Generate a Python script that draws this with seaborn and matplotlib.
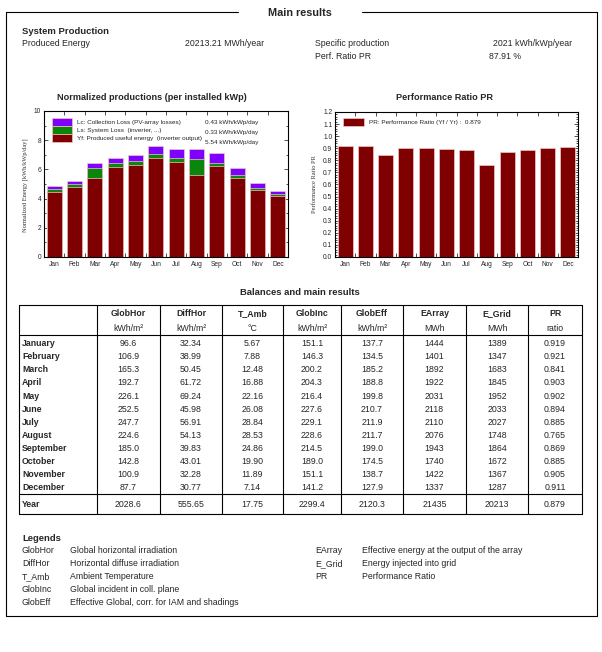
import matplotlib
matplotlib.use('Agg')
import matplotlib.pyplot as plt
import matplotlib.patches as mpatches
import seaborn as sns
import pandas as pd

# monthly normalized productions [kWh/kWp/day]
months = ['Jan', 'Feb', 'Mar', 'Apr', 'May', 'Jun', 'Jul', 'Aug', 'Sep', 'Oct', 'Nov', 'Dec']
yf = [4.48, 4.81, 5.43, 6.15, 6.30, 6.78, 6.54, 5.64, 6.21, 5.39, 4.56, 4.15]
ls = [0.18, 0.19, 0.67, 0.26, 0.26, 0.28, 0.27, 1.06, 0.26, 0.22, 0.18, 0.16]
lc = [0.22, 0.22, 0.36, 0.40, 0.43, 0.53, 0.58, 0.68, 0.67, 0.48, 0.30, 0.24]
pr = [0.919, 0.921, 0.841, 0.903, 0.902, 0.894, 0.885, 0.765, 0.869, 0.885, 0.905, 0.911]

# balances table
month_names = ['January', 'February', 'March', 'April', 'May', 'June', 'July',
               'August', 'September', 'October', 'November', 'December']
glob_hor = [96.6, 106.9, 165.3, 192.7, 226.1, 252.5, 247.7, 224.6, 185.0, 142.8, 100.9, 87.7]
diff_hor = [32.34, 38.99, 50.45, 61.72, 69.24, 45.98, 56.91, 54.13, 39.83, 43.01, 32.28, 30.77]
t_amb = [5.67, 7.88, 12.48, 16.88, 22.16, 26.08, 28.84, 28.53, 24.86, 19.90, 11.89, 7.14]
glob_inc = [151.1, 146.3, 200.2, 204.3, 216.4, 227.6, 229.1, 228.6, 214.5, 189.0, 151.1, 141.2]
glob_eff = [137.7, 134.5, 185.2, 188.8, 199.8, 210.7, 211.9, 211.7, 199.0, 174.5, 138.7, 127.9]
e_array = [1444, 1401, 1892, 1922, 2031, 2118, 2110, 2076, 1943, 1740, 1422, 1337]
e_grid = [1389, 1347, 1683, 1845, 1952, 2033, 2027, 1748, 1864, 1672, 1367, 1287]
year_row = [2028.6, 555.65, 17.75, 2299.4, 2120.3, 21435, 20213, 0.879]

col_names = ['GlobHor', 'DiffHor', 'T_Amb', 'GlobInc', 'GlobEff', 'EArray', 'E_Grid', 'PR']
col_units = ['kWh/m²', 'kWh/m²', '°C', 'kWh/m²', 'kWh/m²', 'MWh', 'MWh', 'ratio']
col_fmt = ['{:.1f}', '{:.2f}', '{:.2f}', '{:.1f}', '{:.1f}', '{:.0f}', '{:.0f}', '{:.3f}']

legend_left = [('GlobHor', 'Global horizontal irradiation'),
               ('DiffHor', 'Horizontal diffuse irradiation'),
               ('T_Amb', 'Ambient Temperature'),
               ('GlobInc', 'Global incident in coll. plane'),
               ('GlobEff', 'Effective Global, corr. for IAM and shadings')]
legend_right = [('EArray', 'Effective energy at the output of the array'),
                ('E_Grid', 'Energy injected into grid'),
                ('PR', 'Performance Ratio')]

sns.set_theme(style='white')
plt.rcParams['font.family'] = ['Liberation Sans', 'DejaVu Sans']

maroon = '#7f0000'
green = '#0a870a'
purple = '#8000ff'
edge = '#f2c4c4'

W, H = 602, 652
fig = plt.figure(figsize=(W / 100, H / 100), dpi=100, facecolor='white')

# overlay axes in pixel coordinates for the report text and frames
ov = fig.add_axes([0, 0, 1, 1])
ov.set_xlim(0, W)
ov.set_ylim(H, 0)
ov.axis('off')


def txt(x, y, s, size=6.3, **kw):
    # y is the visual middle of the capitals, placed via the baseline
    ov.text(x, round(y + 0.5 * size), s, fontsize=size, va='baseline', **kw)


lw = 0.8
# outer frame with gap for title
ov.plot([238, 6, 6, 597, 597, 362], [12, 12, 616, 616, 12, 12], color='black', lw=lw)
txt(300, 12, 'Main results', 7.8, ha='center', fontweight='bold')

txt(22, 31, 'System Production', 6.8, fontweight='bold')
txt(22, 43, 'Produced Energy')
txt(185, 43, '20213.21 MWh/year')
txt(315, 43, 'Specific production')
txt(493, 43, '2021 kWh/kWp/year')
txt(315, 56, 'Perf. Ratio PR')
txt(489, 56, '87.91 %')

txt(152, 97, 'Normalized productions (per installed kWp)', 6.6, ha='center', fontweight='bold')
txt(445, 97, 'Performance Ratio PR', 6.6, ha='center', fontweight='bold')
ov.text(25, 185, 'Normalized Energy [kWh/kWp/day]', rotation=90, ha='center', va='center',
        fontsize=4.6, family=['Liberation Serif'], color='#333333')
ov.text(315, 184, 'Performance Ratio PR', rotation=90, ha='center', va='center',
        fontsize=4.6, family=['Liberation Serif'], color='#333333')

# table
txt(300, 292, 'Balances and main results', 6.8, ha='center', fontweight='bold')
col_edges = [19, 97, 160, 222, 283, 341, 403, 466, 528, 582]
t_top, t_head, t_year, t_bot = 305, 335, 494, 514
ov.plot([19, 582, 582, 19, 19], [t_top, t_top, t_bot, t_bot, t_top], color='black', lw=lw)
ov.plot([19, 582], [t_head, t_head], color='black', lw=lw)
ov.plot([19, 582], [t_year, t_year], color='black', lw=lw)
for xe in col_edges[1:-1]:
    ov.plot([xe, xe], [t_top, t_bot], color='black', lw=lw)

columns = [glob_hor, diff_hor, t_amb, glob_inc, glob_eff, e_array, e_grid, pr]
for j, name in enumerate(col_names):
    xc = (col_edges[j + 1] + col_edges[j + 2]) / 2
    txt(xc, 313, name, ha='center', fontweight='bold')
    txt(xc, 328, col_units[j], ha='center')
    for i, v in enumerate(columns[j]):
        txt(xc, 343 + i * 13.1, col_fmt[j].format(v), ha='center')
    txt(xc, 504, col_fmt[j].format(year_row[j]), ha='center')
for i, m in enumerate(month_names):
    txt(22, 343 + i * 13.1, m, fontweight='bold')
txt(22, 504, 'Year', fontweight='bold')

# legends block
txt(22, 538, 'Legends', 6.8, fontweight='bold')
for i, (k, d) in enumerate(legend_left):
    txt(22, 550 + i * 13, k)
    txt(70, 550 + i * 13, d)
for i, (k, d) in enumerate(legend_right):
    txt(315, 550 + i * 13, k)
    txt(362, 550 + i * 13, d)


def px_rect(left, right, top, bottom):
    return [left / W, (H - bottom) / H, (right - left) / W, (bottom - top) / H]


def style_axes(ax):
    for sp in ax.spines.values():
        sp.set_visible(True)
        sp.set_color('black')
        sp.set_linewidth(0.8)
    ax.set_xlabel('')
    ax.set_ylabel('')
    ax.set_xlim(-0.5, 11.5)
    ax.set_xticks(range(12))
    ax.set_xticklabels(months)
    ax.set_xticks([k + 0.5 for k in range(11)], minor=True)
    ax.tick_params(axis='x', which='major', length=0, labelsize=4.8, pad=3)
    ax.tick_params(axis='x', which='minor', length=3, width=0.6, direction='in',
                   top=True, bottom=True, color='#333333')
    ax.tick_params(axis='y', which='both', direction='in', left=True, right=True,
                   width=0.6, color='#333333')
    ax.tick_params(axis='y', which='major', length=3, labelsize=4.8, pad=2)
    ax.tick_params(axis='y', which='minor', length=1.5)


# normalized productions (stacked)
df = pd.DataFrame({'month': months, 'yf': yf, 'ls': ls, 'lc': lc})
df['ya'] = df['yf'] + df['ls']
df['yr'] = df['ya'] + df['lc']

ax1 = fig.add_axes(px_rect(44, 288, 111, 257))
for col, c in [('yr', purple), ('ya', green), ('yf', maroon)]:
    sns.barplot(data=df, x='month', y=col, color=c, saturation=1, width=0.74,
                errorbar=None, edgecolor=edge, linewidth=0.5, ax=ax1)
ax1.set_ylim(0, 10)
ax1.set_yticks(range(0, 11, 2))
ax1.set_yticks(range(0, 11), minor=True)
style_axes(ax1)

h1 = [mpatches.Patch(facecolor=purple, edgecolor=edge, lw=0.5),
      mpatches.Patch(facecolor=green, edgecolor=edge, lw=0.5),
      mpatches.Patch(facecolor=maroon, edgecolor=edge, lw=0.5)]
l1 = ['Lc: Collection Loss (PV-array losses)',
      'Ls: System Loss  (inverter, ...)',
      'Yf: Produced useful energy  (inverter output)']
ax1.legend(h1, l1, loc='upper left', bbox_to_anchor=(0.033, 0.955), frameon=False,
           fontsize=4.6, handlelength=3.1, handleheight=1.56, labelspacing=0,
           handletextpad=0.8, borderpad=0, borderaxespad=0)
vals = ['0.43 kWh/kWp/day', '0.33 kWh/kWp/day', '5.54 kWh/kWp/day']
for i, v in enumerate(vals):
    ax1.text(0.66, 0.918 - i * 0.0685, v, transform=ax1.transAxes, va='center', fontsize=4.6)

# performance ratio
ax2 = fig.add_axes(px_rect(335, 578, 112, 257))
sns.barplot(x=months, y=pr, color=maroon, saturation=1, width=0.74, errorbar=None,
            edgecolor=edge, linewidth=0.5, ax=ax2)
ax2.set_ylim(0, 1.2)
ax2.set_yticks([i / 10 for i in range(13)])
ax2.set_yticklabels(['{:.1f}'.format(i / 10) for i in range(13)])
ax2.set_yticks([i / 50 for i in range(61)], minor=True)
style_axes(ax2)
ax2.legend([mpatches.Patch(facecolor=maroon, edgecolor=edge, lw=0.5)],
           ['PR: Performance Ratio (Yf / Yr) :  0.879'], loc='upper left',
           bbox_to_anchor=(0.033, 0.96), frameon=False, fontsize=4.6,
           handlelength=3.3, handleheight=1.56, handletextpad=0.8,
           borderpad=0, borderaxespad=0)

fig.savefig('out.png', dpi=100, facecolor='white')
